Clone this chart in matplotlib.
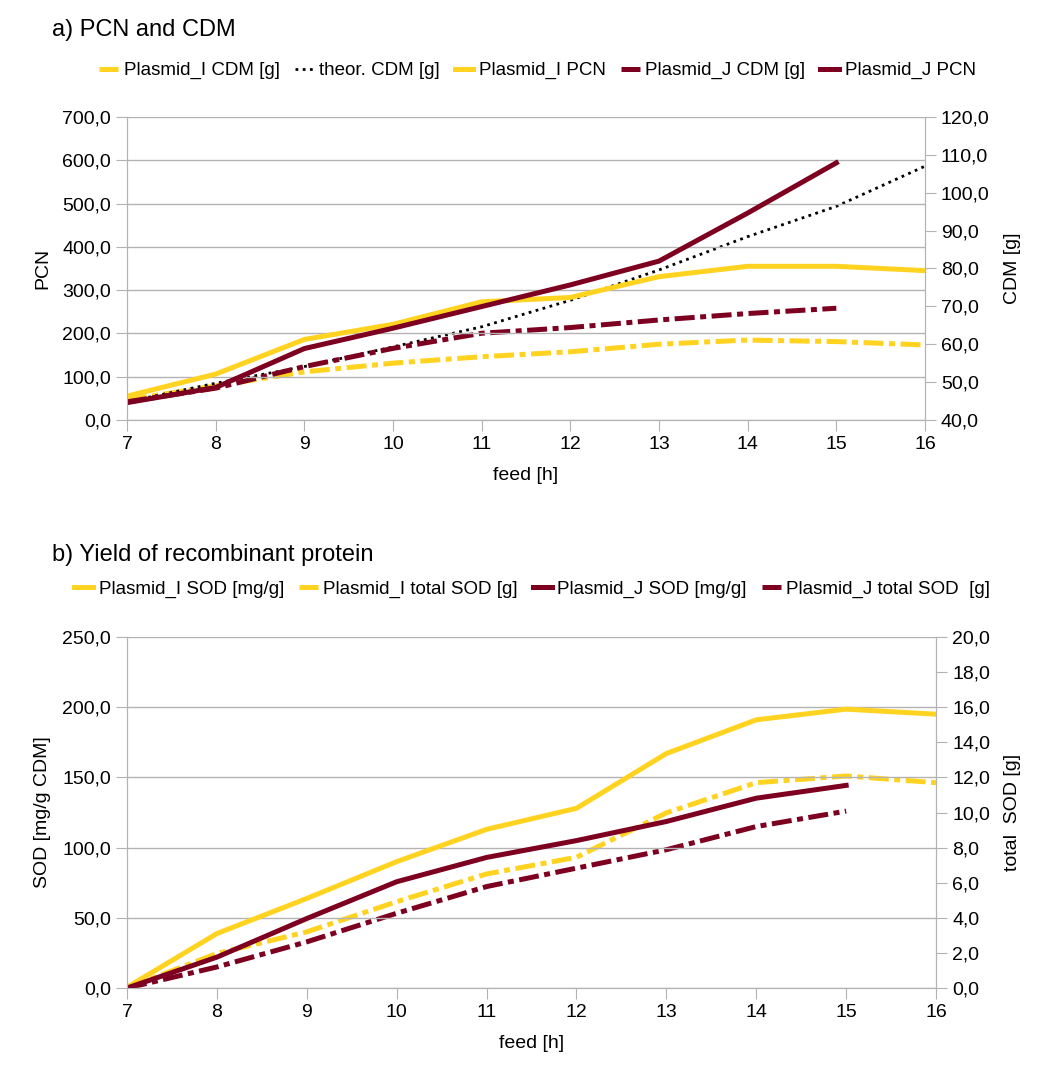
import matplotlib
from matplotlib import pyplot as plt
from matplotlib.ticker import MultipleLocator, FuncFormatter

# LibreOffice-style look
matplotlib.rc("font", family=["Liberation Sans", "DejaVu Sans"], size=14)

YELLOW = "#ffd320"
DARKRED = "#7e0021"

# a) PCN and CDM
feed = [7, 8, 9, 10, 11, 12, 13, 14, 15, 16]
feed_j = [7, 8, 9, 10, 11, 12, 13, 14, 15]
pcn_i = [55, 106, 186, 221, 273, 283, 331, 355, 355, 345]
pcn_j = [40, 75, 165, 212, 262, 312, 367, 478, 594]
cdm_i = [45.3, 49.0, 52.7, 55.0, 56.7, 58.0, 60.0, 61.1, 60.7, 59.8]
cdm_j = [44.8, 48.4, 54.1, 58.9, 62.9, 64.4, 66.4, 68.1, 69.5]
cdm_theor = [44.8, 49.7, 54.1, 59.3, 64.6, 71.6, 79.6, 88.4, 96.4, 107.0]

# b) Yield of recombinant protein
sod_i = [0.5, 38.8, 63.8, 90.0, 113.0, 128.0, 167.0, 191.0, 198.6, 195.0]
sod_j = [0.0, 22.0, 49.5, 75.7, 93.0, 105.0, 118.6, 135.2, 144.3]
tsod_i = [0.0, 1.97, 3.2, 4.92, 6.5, 7.45, 9.98, 11.7, 12.08, 11.7]
tsod_j = [0.0, 1.2, 2.63, 4.26, 5.78, 6.83, 7.88, 9.2, 10.08]

GRID = "#b3b3b3"
comma = FuncFormatter(lambda v, p: "{:.1f}".format(v).replace(".", ","))
dashdot = (4, 1.1, 1.2, 1.1)
lw = 3.6

fig = plt.figure(figsize=(10.54, 10.70), dpi=100)


def style_axes(ax, ax2):
    for a in (ax, ax2):
        a.spines["top"].set_visible(False)
        for s in ("left", "right", "bottom"):
            a.spines[s].set_color(GRID)
        a.tick_params(colors=GRID, labelcolor="black", length=8, labelsize=14)
    ax.grid(axis="y", color=GRID, lw=1)
    ax.set_axisbelow(True)
    ax.xaxis.set_major_locator(MultipleLocator(1))
    ax.yaxis.set_major_formatter(comma)
    ax2.yaxis.set_major_formatter(comma)
    ax.set_xlim(7, 16)
    ax.set_xlabel("feed [h]", fontsize=14, labelpad=10)


# ---- panel a ----
ax = fig.add_axes([0.1205, 0.6075, 0.7571, 0.2832])
ax2 = ax.twinx()
style_axes(ax, ax2)
ax.set_ylim(0, 700)
ax.yaxis.set_major_locator(MultipleLocator(100))
ax2.set_ylim(40, 120)
ax2.yaxis.set_major_locator(MultipleLocator(10))
ax.set_ylabel("PCN", fontsize=14, labelpad=8)
ax2.set_ylabel("CDM [g]", fontsize=14, labelpad=10)

h1, = ax2.plot(feed, cdm_i, color=YELLOW, lw=lw, dashes=dashdot, dash_capstyle="butt", label="Plasmid_I CDM [g]")
h2, = ax2.plot(feed, cdm_theor, color="black", lw=2, dashes=(1, 1.6), label="theor. CDM [g]")
h3, = ax.plot(feed, pcn_i, color=YELLOW, lw=lw, label="Plasmid_I PCN")
h4, = ax2.plot(feed_j, cdm_j, color=DARKRED, lw=lw, dashes=dashdot, dash_capstyle="butt", label="Plasmid_J CDM [g]")
h5, = ax.plot(feed_j, pcn_j, color=DARKRED, lw=lw, label="Plasmid_J PCN")
ax.set_zorder(ax2.get_zorder() + 1)
ax.patch.set_visible(False)

fig.text(0.049, 0.972, "a) PCN and CDM", fontsize=17, va="center")
fig.legend(handles=[h1, h2, h3, h4, h5], loc="center", bbox_to_anchor=(0.51, 0.934), ncol=5,
           frameon=False, handlelength=1.0, handletextpad=0.3, columnspacing=0.8,
           prop={"size": 13.5})

# ---- panel b ----
bx = fig.add_axes([0.1205, 0.0766, 0.7676, 0.3281])
bx2 = bx.twinx()
style_axes(bx, bx2)
bx.set_ylim(0, 250)
bx.yaxis.set_major_locator(MultipleLocator(50))
bx2.set_ylim(0, 20)
bx2.yaxis.set_major_locator(MultipleLocator(2))
bx.set_ylabel("SOD [mg/g CDM]", fontsize=14, labelpad=8)
bx2.set_ylabel("total  SOD [g]", fontsize=14, labelpad=10)

g1, = bx.plot(feed, sod_i, color=YELLOW, lw=lw, label="Plasmid_I SOD [mg/g]")
g2, = bx2.plot(feed, tsod_i, color=YELLOW, lw=lw, dashes=dashdot, dash_capstyle="butt", label="Plasmid_I total SOD [g]")
g3, = bx.plot(feed_j, sod_j, color=DARKRED, lw=lw, label="Plasmid_J SOD [mg/g]")
g4, = bx2.plot(feed_j, tsod_j, color=DARKRED, lw=lw, dashes=dashdot, dash_capstyle="butt", label="Plasmid_J total SOD  [g]")
bx.set_zorder(bx2.get_zorder() + 1)
bx.patch.set_visible(False)

fig.text(0.049, 0.481, "b) Yield of recombinant protein", fontsize=17, va="center")
fig.legend(handles=[g1, g2, g3, g4], loc="center", bbox_to_anchor=(0.505, 0.449), ncol=4,
           frameon=False, handlelength=1.0, handletextpad=0.3, columnspacing=0.8,
           prop={"size": 13.5})

plt.savefig("out.png", dpi=100)
